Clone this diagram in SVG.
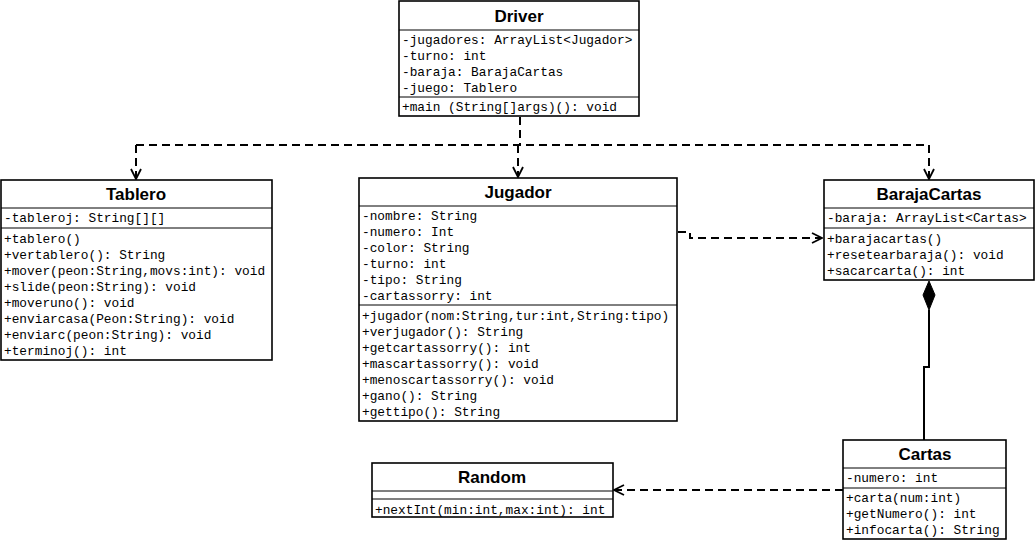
<svg xmlns="http://www.w3.org/2000/svg" width="1036" height="542" viewBox="0 0 1036 542">
<defs>
<style>
.box{fill:#fff;stroke:#000;stroke-width:1.6}
.sep{stroke:#000;stroke-width:1}
.t{font-family:"Liberation Sans",Arial,sans-serif;font-weight:bold;font-size:17px;text-anchor:middle;fill:#000}
.m{font-family:"Liberation Mono","Courier New",monospace;font-size:12.8px;fill:#000}
.dep{fill:none;stroke:#000;stroke-width:2;stroke-dasharray:8,5}
.sol{fill:none;stroke:#000;stroke-width:2}
</style>
<marker id="open" viewBox="0 0 12 12" refX="11" refY="6" markerWidth="12" markerHeight="12" markerUnits="userSpaceOnUse" orient="auto">
<path d="M1,1 L11,6 L1,11" fill="none" stroke="#000" stroke-width="1.8"/>
</marker>
</defs>
<rect width="1036" height="542" fill="#fff"/>
<g id="connectors">
<path class="dep" d="M520,117 V145"/>
<path class="dep" d="M136,145 H929"/>
<path class="dep" d="M136,145 V179" marker-end="url(#open)"/>
<path class="dep" d="M518,145 V177" marker-end="url(#open)"/>
<path class="dep" d="M929,145 V179" marker-end="url(#open)"/>
<path class="dep" d="M678,232 H690 V238 H822" marker-end="url(#open)"/>
<path class="dep" d="M843,490 H614" marker-end="url(#open)"/>
<path class="sol" d="M929,310 V367 H924 V440"/>
<path d="M929,281 L935,295 L929,310 L923,295 Z" fill="#000" stroke="#000" stroke-width="1"/>
</g>
<g id="Driver">
<rect class="box" x="399" y="1" width="240" height="115"/>
<line class="sep" x1="399" y1="30" x2="639" y2="30"/>
<line class="sep" x1="399" y1="97" x2="639" y2="97"/>
<text class="t" x="519" y="22">Driver</text>
<text class="m" x="402" y="44">-jugadores: ArrayList&lt;Jugador&gt;</text>
<text class="m" x="402" y="60">-turno: int</text>
<text class="m" x="402" y="76">-baraja: BarajaCartas</text>
<text class="m" x="402" y="92">-juego: Tablero</text>
<text class="m" x="402" y="111">+main (String[]args)(): void</text>
</g>
<g id="Tablero">
<rect class="box" x="1" y="180" width="271" height="180"/>
<line class="sep" x1="1" y1="208" x2="272" y2="208"/>
<line class="sep" x1="1" y1="228" x2="272" y2="228"/>
<text class="t" x="136" y="200">Tablero</text>
<text class="m" x="4" y="222">-tableroj: String[][]</text>
<text class="m" x="4" y="243">+tablero()</text>
<text class="m" x="4" y="259">+vertablero(): String</text>
<text class="m" x="4" y="275">+mover(peon:String,movs:int): void</text>
<text class="m" x="4" y="291">+slide(peon:String): void</text>
<text class="m" x="4" y="307">+moveruno(): void</text>
<text class="m" x="4" y="323">+enviarcasa(Peon:String): void</text>
<text class="m" x="4" y="339">+enviarc(peon:String): void</text>
<text class="m" x="4" y="355">+terminoj(): int</text>
</g>
<g id="Jugador">
<rect class="box" x="359" y="178" width="318" height="243"/>
<line class="sep" x1="359" y1="206" x2="677" y2="206"/>
<line class="sep" x1="359" y1="305" x2="677" y2="305"/>
<text class="t" x="518" y="198">Jugador</text>
<text class="m" x="362" y="220">-nombre: String</text>
<text class="m" x="362" y="236">-numero: Int</text>
<text class="m" x="362" y="252">-color: String</text>
<text class="m" x="362" y="268">-turno: int</text>
<text class="m" x="362" y="284">-tipo: String</text>
<text class="m" x="362" y="300">-cartassorry: int</text>
<text class="m" x="362" y="320">+jugador(nom:String,tur:int,String:tipo)</text>
<text class="m" x="362" y="336">+verjugador(): String</text>
<text class="m" x="362" y="352">+getcartassorry(): int</text>
<text class="m" x="362" y="368">+mascartassorry(): void</text>
<text class="m" x="362" y="384">+menoscartassorry(): void</text>
<text class="m" x="362" y="400">+gano(): String</text>
<text class="m" x="362" y="416">+gettipo(): String</text>
</g>
<g id="BarajaCartas">
<rect class="box" x="824" y="180" width="210" height="100"/>
<line class="sep" x1="824" y1="208" x2="1034" y2="208"/>
<line class="sep" x1="824" y1="228" x2="1034" y2="228"/>
<text class="t" x="929" y="200">BarajaCartas</text>
<text class="m" x="827" y="222">-baraja: ArrayList&lt;Cartas&gt;</text>
<text class="m" x="827" y="243">+barajacartas()</text>
<text class="m" x="827" y="259">+resetearbaraja(): void</text>
<text class="m" x="827" y="275">+sacarcarta(): int</text>
</g>
<g id="Cartas">
<rect class="box" x="843" y="440" width="163" height="99"/>
<line class="sep" x1="843" y1="468" x2="1006" y2="468"/>
<line class="sep" x1="843" y1="488" x2="1006" y2="488"/>
<text class="t" x="925" y="460">Cartas</text>
<text class="m" x="846" y="482">-numero: int</text>
<text class="m" x="846" y="502">+carta(num:int)</text>
<text class="m" x="846" y="518">+getNumero(): int</text>
<text class="m" x="846" y="534">+infocarta(): String</text>
</g>
<g id="Random">
<rect class="box" x="372" y="463" width="241" height="54"/>
<line class="sep" x1="372" y1="491" x2="613" y2="491"/>
<line class="sep" x1="372" y1="499" x2="613" y2="499"/>
<text class="t" x="492" y="483">Random</text>
<text class="m" x="375" y="514">+nextInt(min:int,max:int): int</text>
</g>
</svg>
